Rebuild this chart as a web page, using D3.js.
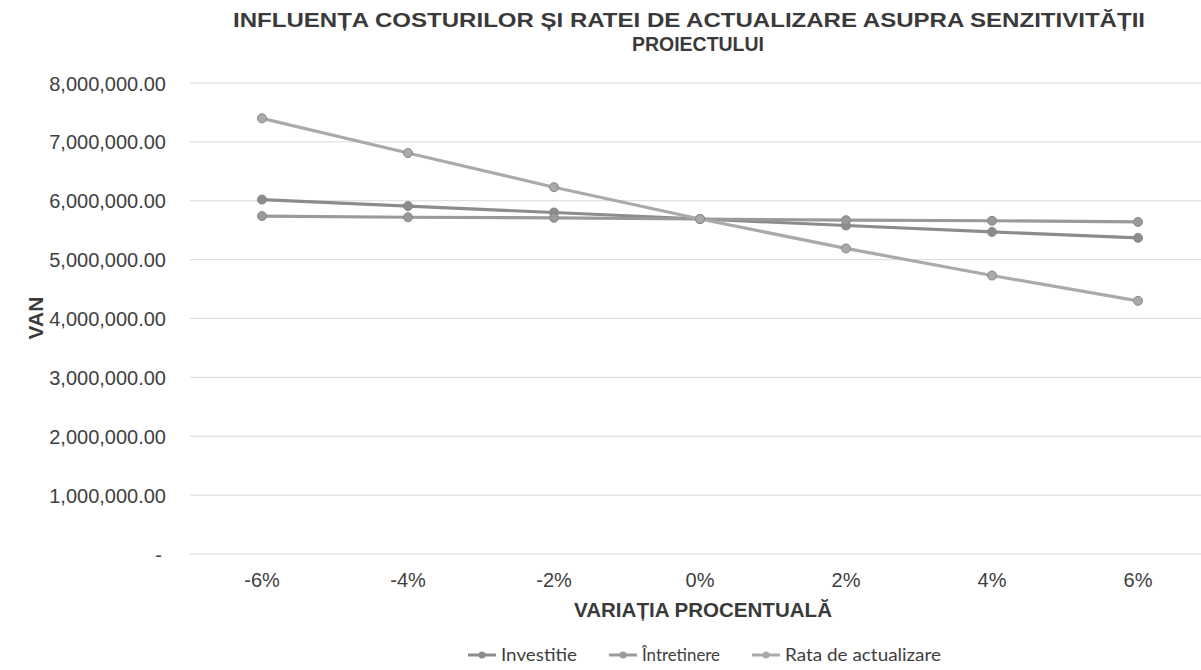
<!DOCTYPE html>
<html><head><meta charset="utf-8">
<script src="https://cdn.jsdelivr.net/npm/d3@7"></script>
<style>
body{margin:0;background:#fff;}
svg{display:block;}
</style></head>
<body>
<svg id="chart" width="1201" height="670"></svg>
<script>
const categories = ["-6%","-4%","-2%","0%","2%","4%","6%"];
const seriesNames = ["Investitie","Întretinere","Rata de actualizare"];
const investitie = [6020000,5910000,5800000,5690000,5580000,5470000,5370000];
const intretinere = [5740000,5720000,5710000,5690000,5670000,5660000,5640000];
const rataActualizare = [7400000,6810000,6230000,5690000,5190000,4730000,4300000];
const yTicks = [0,1000000,2000000,3000000,4000000,5000000,6000000,7000000,8000000];
const titleLines = ["INFLUENȚA COSTURILOR ȘI RATEI DE ACTUALIZARE ASUPRA SENZITIVITĂȚII","PROIECTULUI"];
const xTitle = "VARIAȚIA PROCENTUALĂ";
const yTitle = "VAN";

const seriesData = [investitie, intretinere, rataActualizare];
const colors = ["#8c8c8c","#9a9a9a","#aaaaaa"];
const legendTextWidths = [76, 78, 156];

const svg = d3.select("#chart");
const x = d3.scaleBand().domain(categories).range([189,1211]);
const y = d3.scaleLinear().domain([0,8000000]).range([554,83]);

// gridlines
svg.append("g").selectAll("line").data(yTicks).join("line")
  .attr("x1",190).attr("x2",1201)
  .attr("y1",d=>y(d)).attr("y2",d=>y(d))
  .attr("stroke","#d9d9d9").attr("stroke-width",1);

// y axis labels
const fmt = d3.format(",.2f");
const yAxis = d3.axisLeft(y).tickValues(yTicks).tickSize(0).tickPadding(0)
  .tickFormat(d=> d===0 ? "-" : fmt(d));
const yg = svg.append("g").attr("transform","translate(166,0)").call(yAxis);
yg.select(".domain").remove();
yg.selectAll("text").attr("font-family","'Liberation Sans', Arial, sans-serif")
  .attr("font-size",20).attr("fill","#404040").attr("dy","0.35em");
yg.selectAll(".tick").filter(d=>d===0).select("text").attr("dx",-4);

// x axis labels
const xAxis = d3.axisBottom(x).tickSize(0).tickPadding(0);
const xg = svg.append("g").attr("transform","translate(0,580)").call(xAxis);
xg.select(".domain").remove();
xg.selectAll("text").attr("font-family","'Liberation Sans', Arial, sans-serif")
  .attr("font-size",20).attr("fill","#404040").attr("dy","0.35em");

// lines
const line = d3.line().x((d,i)=>x(categories[i])+x.bandwidth()/2).y(d=>y(d));
seriesData.forEach((s,k)=>{
  const g = svg.append("g");
  g.append("path").datum(s).attr("d",line).attr("fill","none")
    .attr("stroke",colors[k]).attr("stroke-width",3.2).attr("stroke-linejoin","round");
  g.selectAll("circle").data(s).join("circle")
    .attr("cx",(d,i)=>x(categories[i])+x.bandwidth()/2).attr("cy",d=>y(d))
    .attr("r",4.5).attr("fill",colors[k]).attr("stroke","#888").attr("stroke-width",1);
});

// title
svg.append("text").attr("x",689).attr("y",27).attr("text-anchor","middle")
  .attr("font-family","'Liberation Sans', Arial, sans-serif").attr("font-weight","bold")
  .attr("font-size",20).attr("fill","#3a3a3a")
  .attr("textLength",912).attr("lengthAdjust","spacingAndGlyphs")
  .text(titleLines[0]);
svg.append("text").attr("x",698).attr("y",51).attr("text-anchor","middle")
  .attr("font-family","'Liberation Sans', Arial, sans-serif").attr("font-weight","bold")
  .attr("font-size",20).attr("fill","#3a3a3a")
  .attr("textLength",132).attr("lengthAdjust","spacingAndGlyphs")
  .text(titleLines[1]);

// axis titles
svg.append("text").attr("x",703).attr("y",617).attr("text-anchor","middle")
  .attr("font-family","'Liberation Sans', Arial, sans-serif").attr("font-weight","bold")
  .attr("font-size",21).attr("fill","#3a3a3a")
  .attr("textLength",258).attr("lengthAdjust","spacingAndGlyphs")
  .text(xTitle);
svg.append("text").attr("transform","translate(43,318) rotate(-90)").attr("text-anchor","middle")
  .attr("font-family","'Liberation Sans', Arial, sans-serif").attr("font-weight","bold")
  .attr("font-size",21).attr("fill","#3a3a3a")
  .text(yTitle);

// legend
const legend = svg.append("g").attr("transform","translate(0,655)");
let lx = 468;
seriesNames.forEach((n,k)=>{
  const g = legend.append("g").attr("transform",`translate(${lx},0)`);
  g.append("line").attr("x1",0).attr("x2",28).attr("y1",0).attr("y2",0)
    .attr("stroke",colors[k]).attr("stroke-width",3);
  g.append("circle").attr("cx",14).attr("cy",0).attr("r",3.5).attr("fill",colors[k]);
  g.append("text").attr("x",33).attr("y",0).attr("dy","0.35em")
    .attr("font-family","Lato, 'Open Sans', sans-serif").attr("font-size",18).attr("fill","#404040")
    .attr("textLength",legendTextWidths[k]).attr("lengthAdjust","spacingAndGlyphs")
    .text(n);
  lx += 33 + legendTextWidths[k] + 32;
});
</script>
</body></html>
